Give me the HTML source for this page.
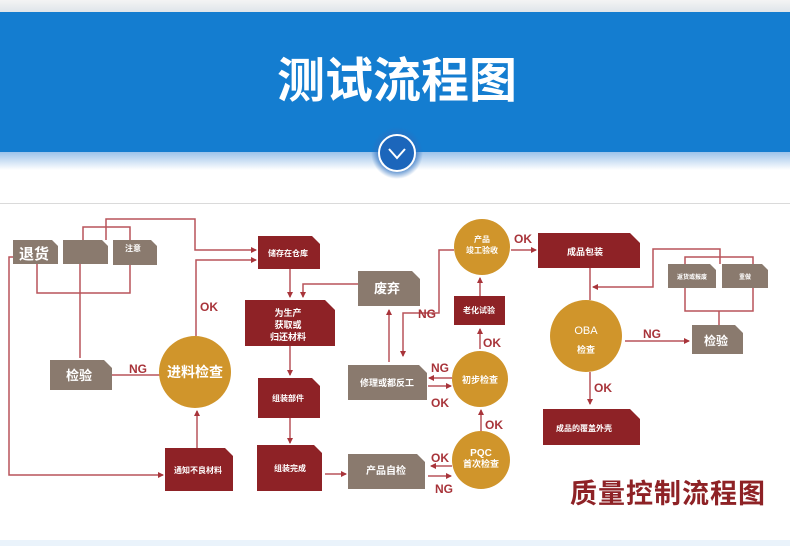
<!DOCTYPE html>
<html><head><meta charset="utf-8"><style>
html,body{margin:0;padding:0;width:790px;height:546px;overflow:hidden;background:#fff;font-family:"Liberation Sans","Noto Sans CJK SC",sans-serif}
</style></head><body>
<svg width="790" height="546" viewBox="0 0 790 546" xmlns="http://www.w3.org/2000/svg" font-family="Liberation Sans, Noto Sans CJK SC, sans-serif">
<defs>
<linearGradient id="sh" x1="0" y1="0" x2="0" y2="1"><stop offset="0" stop-color="#9cc3ea"/><stop offset="1" stop-color="#fff"/></linearGradient>
<linearGradient id="top" x1="0" y1="0" x2="0" y2="1"><stop offset="0" stop-color="#f4f4f4"/><stop offset="1" stop-color="#dfe5ea"/></linearGradient>
<radialGradient id="cg" cx="0.5" cy="0.5" r="0.5"><stop offset="0.6" stop-color="#2a6fc0"/><stop offset="1" stop-color="#2a6fc0" stop-opacity="0"/></radialGradient>
<marker id="a" markerWidth="6" markerHeight="6" refX="5" refY="3" orient="auto" markerUnits="userSpaceOnUse"><path d="M0,0L6,3L0,6z" fill="#a8343a"/></marker>
</defs>
<rect x="0" y="0" width="790" height="12" fill="url(#top)"/>
<rect x="0" y="12" width="790" height="140" fill="#147dd0"/>
<rect x="0" y="152" width="790" height="18" fill="url(#sh)"/>
<text x="397" y="97" text-anchor="middle" font-size="48" font-weight="bold" fill="#fff">测试流程图</text>
<circle cx="397" cy="153" r="26" fill="url(#cg)"/>
<ellipse cx="397" cy="153" rx="18" ry="18" fill="#1c66bb" stroke="#fff" stroke-width="2"/>
<path d="M389,149 L397,158 L405,149" fill="none" stroke="#fff" stroke-width="2"/>
<line x1="0" y1="203.5" x2="790" y2="203.5" stroke="#dadada"/>
<rect x="0" y="540" width="790" height="6" fill="#eaf3fb"/>

<g fill="none" stroke="#b9545a" stroke-width="1.5">
<path d="M106,240 V219 H195 V250 H256" marker-end="url(#a)"/>
<path d="M83,240 V227 H130 V240"/>
<path d="M37,264 V293 H130 V265"/>
<path d="M80,264 V358"/>
<path d="M112,375 H160"/>
<path d="M196,336 V260 H256" marker-end="url(#a)"/>
<path d="M13,257 H9 V475 H163" marker-end="url(#a)"/>
<path d="M197,448 V411" marker-end="url(#a)"/>
<path d="M290,269 V297" marker-end="url(#a)"/>
<path d="M290,346 V375" marker-end="url(#a)"/>
<path d="M290,418 V443" marker-end="url(#a)"/>
<path d="M325,474 H346" marker-end="url(#a)"/>
<path d="M358,284 H303 V297" marker-end="url(#a)"/>
<path d="M389,362 V310" marker-end="url(#a)"/>
<path d="M454,250 H439 V313 H403 V356" marker-end="url(#a)"/>
<path d="M511,250 H536" marker-end="url(#a)"/>
<path d="M480,296 V278" marker-end="url(#a)"/>
<path d="M480,349 V329" marker-end="url(#a)"/>
<path d="M452,378 H429" marker-end="url(#a)"/>
<path d="M428,386 H451" marker-end="url(#a)"/>
<path d="M481,431 V410" marker-end="url(#a)"/>
<path d="M452,466 H431" marker-end="url(#a)"/>
<path d="M428,476 H451" marker-end="url(#a)"/>
<path d="M590,268 V300"/>
<path d="M720,264 V249 H653 V287 H593" marker-end="url(#a)"/>
<path d="M685,264 V257 H753 V264"/>
<path d="M685,288 V311 H753 V288"/>
<path d="M719,311 V325"/>
<path d="M625,341 H689" marker-end="url(#a)"/>
<path d="M590,372 V404" marker-end="url(#a)"/>
</g>

<g fill="#8a7a6e">
<path d="M13,240 H52 L58,246 V264 H13z"/>
<path d="M63,240 H102 L108,246 V264 H63z"/>
<path d="M113,240 H151 L157,246 V265 H113z"/>
<path d="M50,360 H104 L112,368 V390 H50z"/>
<path d="M358,271 H412 L420,279 V306 H358z"/>
<path d="M348,365 H419 L427,373 V400 H348z"/>
<path d="M348,454 H417 L425,462 V489 H348z"/>
<path d="M668,264 H710 L716,270 V288 H668z"/>
<path d="M722,264 H762 L768,270 V288 H722z"/>
<path d="M692,325 H735 L743,333 V354 H692z"/>
</g>
<g fill="#8e2226">
<path d="M258,236 H312 L320,244 V269 H258z"/>
<path d="M245,300 H325 L335,310 V346 H245z"/>
<path d="M258,378 H312 L320,386 V418 H258z"/>
<path d="M257,445 H314 L322,453 V491 H257z"/>
<path d="M165,448 H225 L233,456 V491 H165z"/>
<path d="M454,296 H505 V325 H454z"/>
<path d="M538,233 H630 L640,243 V268 H538z"/>
<path d="M543,409 H630 L640,419 V445 H543z"/>
</g>
<g fill="#d0952b">
<circle cx="195" cy="372" r="36"/>
<circle cx="482" cy="247" r="28"/>
<circle cx="480" cy="379" r="28"/>
<circle cx="481" cy="460" r="29"/>
<circle cx="586" cy="336" r="36"/>
</g>

<g fill="#fff" font-weight="bold" text-anchor="middle">
<text x="34" y="259" font-size="15">退货</text>
<text x="133" y="251" font-size="8">注意</text>
<text x="79" y="380" font-size="13">检验</text>
<text x="195" y="377" font-size="14">进料检查</text>
<text x="288" y="256" font-size="8">储存在仓库</text>
<text x="288" y="316" font-size="9">为生产</text>
<text x="288" y="328" font-size="9">获取或</text>
<text x="288" y="340" font-size="9">归还材料</text>
<text x="288" y="401" font-size="8">组装部件</text>
<text x="290" y="471" font-size="8">组装完成</text>
<text x="198" y="473" font-size="8">通知不良材料</text>
<text x="387" y="293" font-size="13">废弃</text>
<text x="387" y="386" font-size="9">修理或都反工</text>
<text x="386" y="474" font-size="10">产品自检</text>
<text x="482" y="242" font-size="8">产品</text>
<text x="482" y="253" font-size="8">竣工验收</text>
<text x="479" y="313" font-size="8">老化试验</text>
<text x="480" y="383" font-size="9">初步检查</text>
<text x="481" y="456" font-size="10">PQC</text>
<text x="481" y="467" font-size="9">首次检查</text>
<text x="585" y="255" font-size="9">成品包装</text>
<text x="586" y="334" font-size="11" font-weight="normal">OBA</text>
<text x="586" y="353" font-size="9">检查</text>
<text x="692" y="279" font-size="6">返货或报废</text>
<text x="745" y="279" font-size="6">重做</text>
<text x="716" y="345" font-size="12">检验</text>
<text x="584" y="431" font-size="8">成品的覆盖外壳</text>
</g>
<g fill="#a8343a" font-weight="bold" font-size="12" text-anchor="middle">
<text x="138" y="373">NG</text>
<text x="209" y="311">OK</text>
<text x="427" y="318">NG</text>
<text x="523" y="243">OK</text>
<text x="440" y="372">NG</text>
<text x="440" y="407">OK</text>
<text x="492" y="347">OK</text>
<text x="494" y="429">OK</text>
<text x="440" y="462">OK</text>
<text x="444" y="493">NG</text>
<text x="652" y="338">NG</text>
<text x="603" y="392">OK</text>
</g>
<text x="668" y="503" text-anchor="middle" font-size="27" font-weight="bold" fill="#8e2226" letter-spacing="1">质量控制流程图</text>
</svg>
</body></html>
